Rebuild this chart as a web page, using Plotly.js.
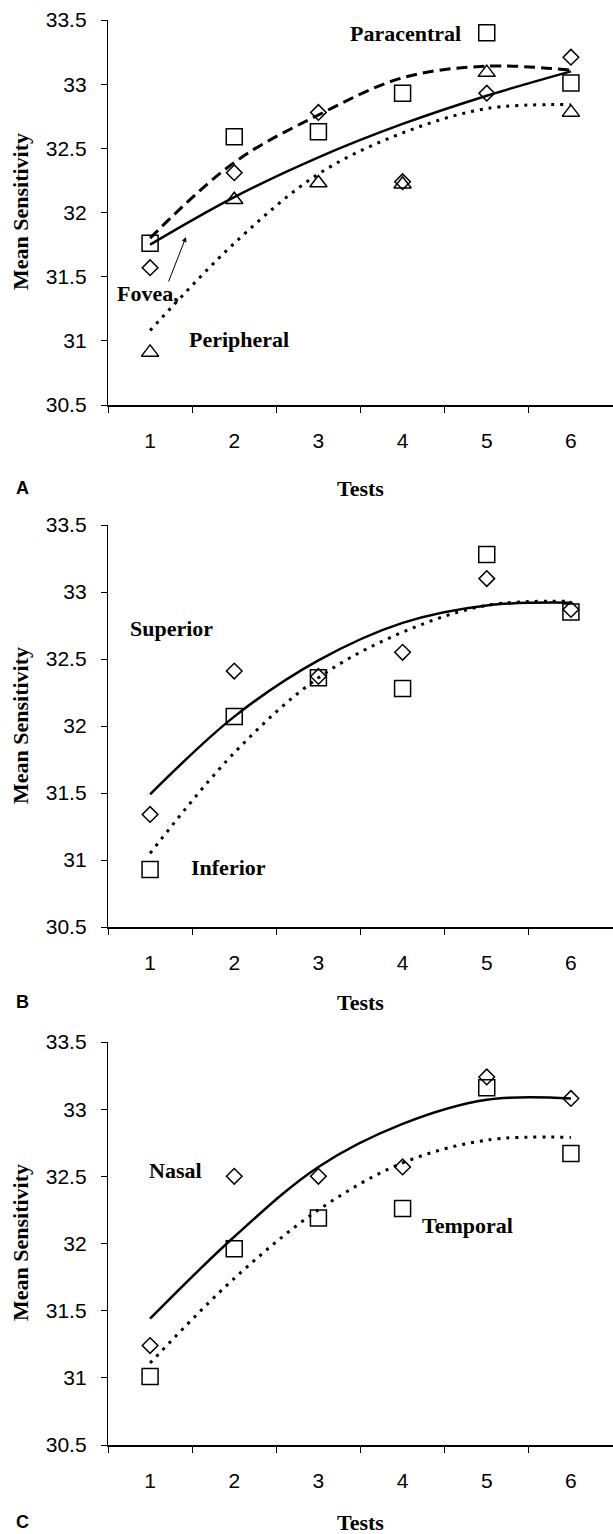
<!DOCTYPE html>
<html>
<head>
<meta charset="utf-8">
<script src="https://cdn.plot.ly/plotly-3.0.1.min.js"></script>
<style>html,body{margin:0;padding:0;background:#fff;}</style>
</head>
<body>
<div id="chart" style="width:613px;height:1534px"></div>
<script>
// ---------- data ----------
const tests = ['1', '2', '3', '4', '5', '6'];

// Panel A
const aSquares   = [31.76, 32.59, 32.63, 32.93, 33.40, 33.01];
const aDiamonds  = [31.57, 32.31, 32.78, 32.24, 32.93, 33.21];
const aTriangles = [30.91, 32.10, 32.23, 32.22, 33.09, 32.78];
const aFitDashed = [31.80, 32.39, 32.76, 33.05, 33.14, 33.11];
const aFitSolid  = [31.75, 32.12, 32.43, 32.69, 32.91, 33.10];
const aFitDotted = [31.08, 31.76, 32.30, 32.62, 32.81, 32.84];

// Panel B
const bSquares   = [30.93, 32.07, 32.36, 32.28, 33.28, 32.85];
const bDiamonds  = [31.34, 32.41, 32.37, 32.55, 33.10, 32.87];
const bFitSolid  = [31.49, 32.07, 32.49, 32.77, 32.90, 32.92];
const bFitDotted = [31.05, 31.80, 32.36, 32.70, 32.90, 32.93];

// Panel C
const cDiamonds  = [31.24, 32.50, 32.50, 32.57, 33.24, 33.08];
const cSquares   = [31.01, 31.96, 32.19, 32.26, 33.16, 32.67];
const cFitSolid  = [31.44, 32.05, 32.57, 32.89, 33.07, 33.08];
const cFitDotted = [31.11, 31.74, 32.25, 32.60, 32.77, 32.79];

const yTickVals = [30.5, 31, 31.5, 32, 32.5, 33, 33.5];

// ---------- styles ----------
const DASHED = '11px,6px';
const DOTTED = '3px,6px';

function fit(y, xa, ya, dash, width) {
  return {x: tests, y: y, xaxis: xa, yaxis: ya, type: 'scatter', mode: 'lines',
    line: {color: '#000', width: width, dash: dash, shape: 'spline', smoothing: 1},
    hoverinfo: 'skip'};
}
function pts(y, xa, ya, symbol, size) {
  return {x: tests, y: y, xaxis: xa, yaxis: ya, type: 'scatter', mode: 'markers',
    marker: {symbol: symbol, size: size, color: '#000', line: {color: '#000', width: 1.5}}};
}

const data = [
  fit(aFitDashed, 'x', 'y', DASHED, 3),
  fit(aFitSolid, 'x', 'y', 'solid', 2.5),
  fit(aFitDotted, 'x', 'y', DOTTED, 3),
  pts(aSquares, 'x', 'y', 'square-open', 16),
  pts(aDiamonds, 'x', 'y', 'diamond-open', 12),
  pts(aTriangles, 'x', 'y', 'triangle-up-open', 15),

  fit(bFitSolid, 'x2', 'y2', 'solid', 2.5),
  fit(bFitDotted, 'x2', 'y2', DOTTED, 3),
  pts(bSquares, 'x2', 'y2', 'square-open', 16),
  pts(bDiamonds, 'x2', 'y2', 'diamond-open', 12),

  fit(cFitSolid, 'x3', 'y3', 'solid', 2.5),
  fit(cFitDotted, 'x3', 'y3', DOTTED, 3),
  pts(cSquares, 'x3', 'y3', 'square-open', 16),
  pts(cDiamonds, 'x3', 'y3', 'diamond-open', 12)
];

const tickFont = {family: 'Liberation Sans, Arial, sans-serif', size: 21, color: '#000'};
const serif = {family: 'Liberation Serif, Times New Roman, serif', size: 22, color: '#000'};
const XDOM = [108 / 613, 1];

function xAxis(anchor) {
  return {anchor: anchor, domain: XDOM, type: 'category', categoryorder: 'array', categoryarray: tests,
    range: [-0.5, 5.5], tickson: 'boundaries', ticks: 'outside', ticklen: 6, tickwidth: 1, tickcolor: '#000',
    showline: true, linecolor: '#000', linewidth: 1.5, showgrid: false, zeroline: false,
    tickfont: tickFont, ticklabelstandoff: 16, fixedrange: true};
}
function yAxis(anchor, dom) {
  return {anchor: anchor, domain: dom, range: [30.5, 33.5], tickmode: 'array', tickvals: yTickVals,
    ticks: 'outside', ticklen: 6, tickwidth: 1, tickcolor: '#000',
    showline: true, linecolor: '#000', linewidth: 1.2, showgrid: false, zeroline: false,
    tickfont: tickFont, ticklabelstandoff: 10, fixedrange: true};
}
const H = 1534, W = 613;
function py(p) { return 1 - p / H; }
function px(p) { return p / W; }

function txt(t, x, y, font, extra) {
  return Object.assign({text: t, xref: 'paper', yref: 'paper', x: px(x), y: py(y),
    xanchor: 'center', yanchor: 'middle', showarrow: false, font: font}, extra || {});
}
const panelFont = {family: 'Liberation Sans, Arial, sans-serif', size: 18, color: '#000', weight: 'bold'};
const yTitleFont = Object.assign({}, serif, {size: 22});

const annotations = [
  txt('<b>Paracentral</b>', 405, 33, serif),
  txt('<b>Fovea,</b>', 148, 293, serif),
  txt('<b>Peripheral</b>', 239, 340, serif),
  txt('<b>Superior</b>', 171, 628, serif),
  txt('<b>Inferior</b>', 228, 867, serif),
  txt('<b>Nasal</b>', 175, 1170, serif),
  txt('<b>Temporal</b>', 468, 1225, serif),
  {text: '', xref: 'paper', yref: 'paper', x: px(186), y: py(237), axref: 'pixel', ayref: 'pixel',
   ax: -18, ay: 46, showarrow: true, arrowhead: 2, arrowsize: 1, arrowwidth: 1, arrowcolor: '#000'},
  txt('<b>Tests</b>', 360, 488, serif),
  txt('<b>Tests</b>', 360, 1002, serif),
  txt('<b>Tests</b>', 360, 1522, serif),
  txt('<b>A</b>', 14, 488, panelFont, {xanchor: 'left'}),
  txt('<b>B</b>', 14, 1002, panelFont, {xanchor: 'left'}),
  txt('<b>C</b>', 14, 1522, panelFont, {xanchor: 'left'}),
  txt('<b>Mean Sensitivity</b>', 20, 212, yTitleFont, {textangle: -90}),
  txt('<b>Mean Sensitivity</b>', 20, 726, yTitleFont, {textangle: -90}),
  txt('<b>Mean Sensitivity</b>', 20, 1243, yTitleFont, {textangle: -90})
];

const layout = {
  width: W, height: H, margin: {l: 0, r: 0, t: 0, b: 0},
  paper_bgcolor: '#fff', plot_bgcolor: '#fff', showlegend: false,
  xaxis: xAxis('y'), yaxis: yAxis('x', [py(405), py(20)]),
  xaxis2: xAxis('y2'), yaxis2: yAxis('x2', [py(927), py(525)]),
  xaxis3: xAxis('y3'), yaxis3: yAxis('x3', [py(1445), py(1042)]),
  annotations: annotations
};

Plotly.newPlot('chart', data, layout, {displayModeBar: false, staticPlot: true});
</script>
</body>
</html>
